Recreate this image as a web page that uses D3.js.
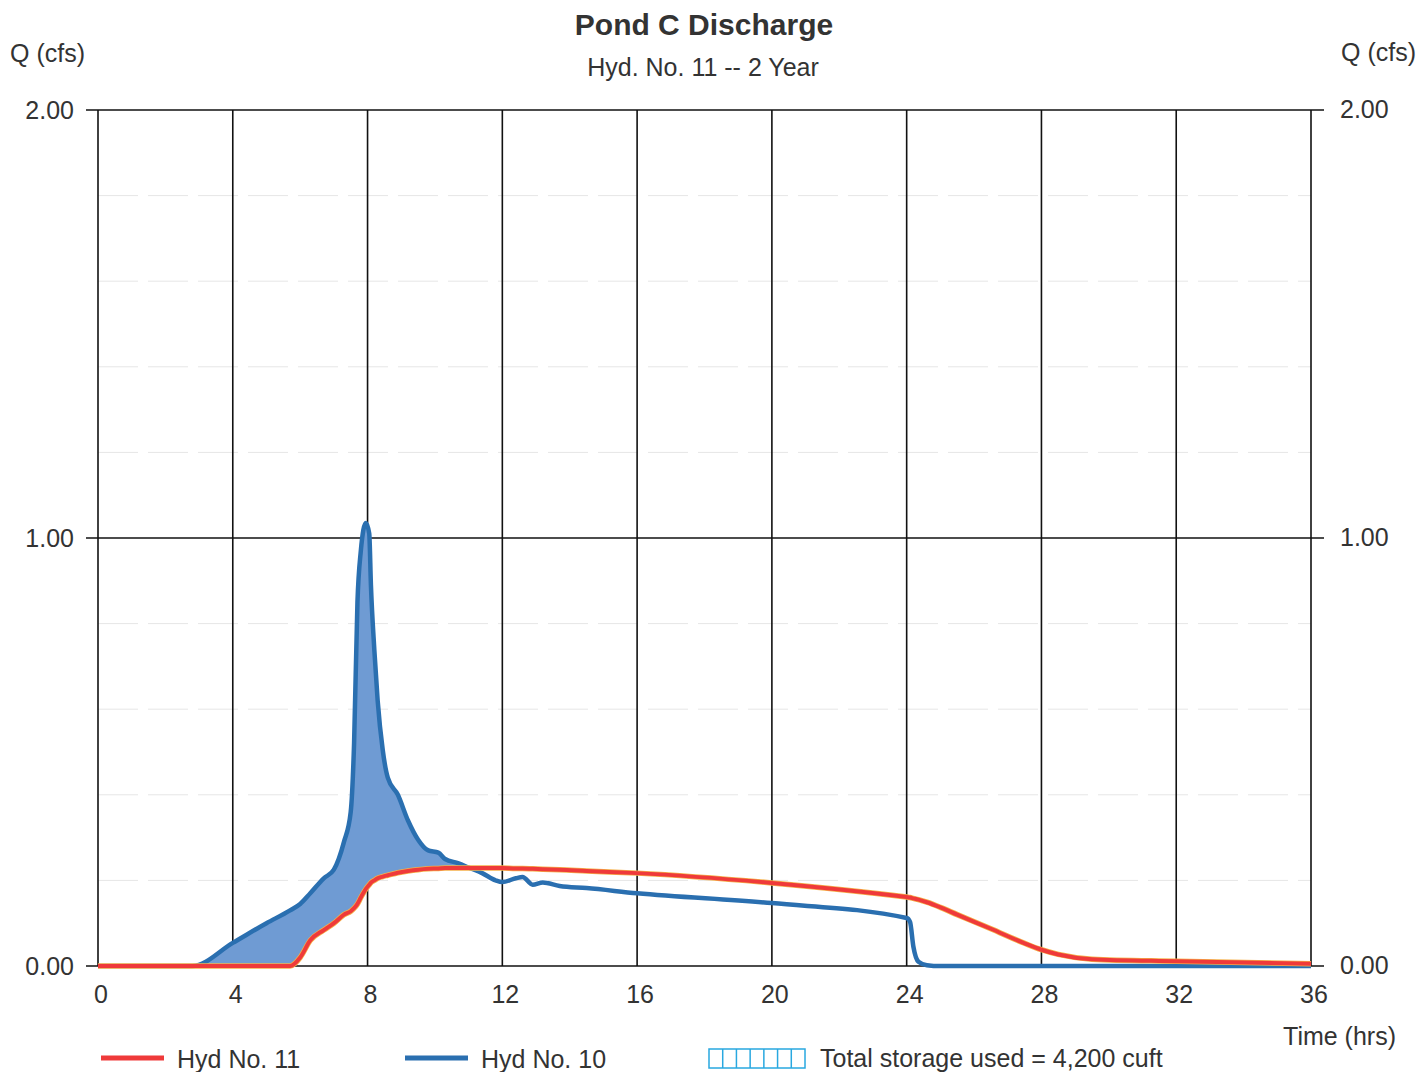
<!DOCTYPE html>
<html><head><meta charset="utf-8">
<script src="https://cdn.jsdelivr.net/npm/d3@7"></script>
<style>body{margin:0;background:#fff}svg{display:block}text{font-family:"Liberation Sans",Arial,sans-serif;fill:#333}</style>
</head><body>
<svg id="c" width="1421" height="1072"></svg>
<script>
const hours = [0,2.8,4,5,5.7,6,6.3,6.7,7,7.3,7.5,7.6,7.7,7.8,7.95,8.05,8.1,8.2,8.3,8.45,8.6,8.9,9.2,9.5,9.8,10.1,10.3,10.7,11,11.4,11.8,12,12.4,12.6,12.9,13.2,13.7,14.5,16,20,24,24.1,24.2,24.35,24.6,25,25.5,26.5,27.5,28,28.5,29.5,32,36];
const hyd10 = [0,0,0.054,0.10,0.13,0.145,0.17,0.205,0.225,0.29,0.36,0.52,0.85,0.97,1.035,1.01,0.89,0.74,0.62,0.505,0.44,0.40,0.34,0.295,0.27,0.265,0.25,0.24,0.23,0.217,0.20,0.196,0.205,0.208,0.19,0.195,0.187,0.182,0.17,0.147,0.112,0.103,0.045,0.01,0.002,0,0,0,0,0,0,0,0,0];
const hyd11 = [0,0,0,0,0,0.02,0.06,0.084,0.10,0.12,0.128,0.135,0.145,0.16,0.18,0.19,0.195,0.20,0.205,0.209,0.212,0.218,0.222,0.225,0.227,0.228,0.229,0.229,0.229,0.229,0.229,0.229,0.228,0.228,0.227,0.226,0.225,0.222,0.217,0.194,0.161,0.160,0.158,0.155,0.149,0.137,0.120,0.087,0.053,0.038,0.027,0.016,0.011,0.005];
const xTicks = [0,4,8,12,16,20,24,28,32,36];
const yTicks = [0,1,2];
const yMinor = [0.2,0.4,0.6,0.8,1.2,1.4,1.6,1.8];
const title = "Pond C Discharge";
const subtitle = "Hyd. No. 11 -- 2 Year";
const legendItems = ["Hyd No. 11","Hyd No. 10","Total storage used = 4,200 cuft"];

const svg = d3.select("#c");
const x = d3.scaleLinear().domain([0,36]).range([98,1311]);
const y = d3.scaleLinear().domain([0,2]).range([966,110]);

// minor gridlines
svg.append("g").selectAll("line").data(yMinor).join("line")
  .attr("x1",x(0)).attr("x2",x(36)).attr("y1",d=>y(d)).attr("y2",d=>y(d))
  .attr("stroke","#e6e6e6").attr("stroke-width",1).attr("stroke-dasharray","40,10");

// vertical grid
svg.append("g").selectAll("line").data(xTicks).join("line")
  .attr("x1",d=>x(d)).attr("x2",d=>x(d)).attr("y1",y(2)).attr("y2",y(0))
  .attr("stroke","#111").attr("stroke-width",1.6);
// major horizontal
svg.append("g").selectAll("line").data(yTicks).join("line")
  .attr("x1",86).attr("x2",1324).attr("y1",d=>y(d)).attr("y2",d=>y(d))
  .attr("stroke","#111").attr("stroke-width",1.6);

// fill area
const data = hours.map((h,i)=>({h,b:hyd10[i],r:hyd11[i]}));
const fillData = data.filter(d=>d.h<=12);
svg.append("path").datum(fillData)
  .attr("d",d3.area().x(d=>x(d.h)).y0(d=>y(d.r)).y1(d=>y(Math.max(d.b,d.r))).curve(d3.curveMonotoneX))
  .attr("fill","#6f9bd3");

svg.append("path").datum(data)
  .attr("d",d3.line().x(d=>x(d.h)).y(d=>y(d.b)).curve(d3.curveMonotoneX))
  .attr("fill","none").attr("stroke","#2a6fb0").attr("stroke-width",4.5).attr("stroke-linejoin","round");
svg.append("path").datum(data)
  .attr("d",d3.line().x(d=>x(d.h)).y(d=>y(d.r)).curve(d3.curveMonotoneX))
  .attr("fill","none").attr("stroke","#f5b04a").attr("stroke-width",5.5).attr("stroke-linejoin","round");
svg.append("path").datum(data)
  .attr("d",d3.line().x(d=>x(d.h)).y(d=>y(d.r)).curve(d3.curveMonotoneX))
  .attr("fill","none").attr("stroke","#ef3a3a").attr("stroke-width",4).attr("stroke-linejoin","round");

// tick labels
svg.append("g").selectAll("text").data(yTicks).join("text")
  .attr("x",74).attr("y",d=>y(d)+9).attr("text-anchor","end").attr("font-size",25).text(d=>d.toFixed(2));
svg.append("g").selectAll("text").data(yTicks).join("text")
  .attr("x",1340).attr("y",d=>y(d)+8).attr("font-size",25).text(d=>d.toFixed(2));
svg.append("g").selectAll("text").data(xTicks).join("text")
  .attr("x",d=>x(d)+3).attr("y",1003).attr("text-anchor","middle").attr("font-size",25).text(d=>d);

// titles
svg.append("text").attr("x",704).attr("y",35).attr("text-anchor","middle").attr("font-size",30).attr("font-weight","bold").attr("fill","#444").text(title);
svg.append("text").attr("x",703).attr("y",76).attr("text-anchor","middle").attr("font-size",25).text(subtitle);
svg.append("text").attr("x",10).attr("y",62).attr("font-size",25).text("Q (cfs)");
svg.append("text").attr("x",1416).attr("y",61).attr("text-anchor","end").attr("font-size",25).text("Q (cfs)");
svg.append("text").attr("x",1396).attr("y",1045).attr("text-anchor","end").attr("font-size",25).text("Time (hrs)");

// legend
const lg = svg.append("g");
lg.append("line").attr("x1",101).attr("x2",164).attr("y1",1058).attr("y2",1058).attr("stroke","#ef3a3a").attr("stroke-width",5);
lg.append("text").attr("x",177).attr("y",1068).attr("font-size",25).text(legendItems[0]);
lg.append("line").attr("x1",405).attr("x2",468).attr("y1",1058).attr("y2",1058).attr("stroke","#2a6fb0").attr("stroke-width",5);
lg.append("text").attr("x",481).attr("y",1068).attr("font-size",25).text(legendItems[1]);
lg.append("rect").attr("x",709).attr("y",1049).attr("width",96).attr("height",19).attr("fill","none").attr("stroke","#29a8e0").attr("stroke-width",1.5);
lg.selectAll("line.h").data(d3.range(1,7)).join("line").attr("class","h")
  .attr("x1",d=>709+d*96/7).attr("x2",d=>709+d*96/7).attr("y1",1049).attr("y2",1068).attr("stroke","#29a8e0").attr("stroke-width",1.5);
lg.append("text").attr("x",820).attr("y",1067).attr("font-size",25).text(legendItems[2]);
</script>
</body></html>
